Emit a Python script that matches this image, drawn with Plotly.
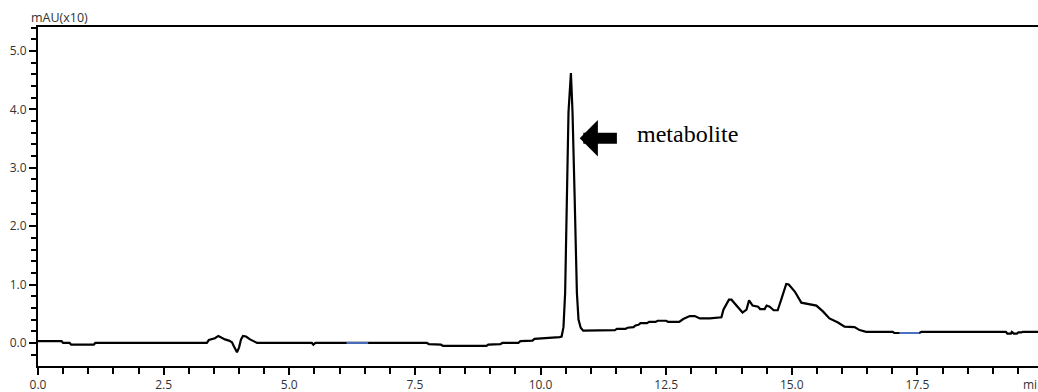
import plotly.graph_objects as go

# Chromatogram (time in min, signal in mAU x10)
time_min = [0.00, 0.47, 0.50, 0.63, 0.66, 1.11, 1.14,
            3.36, 3.40, 3.46, 3.52, 3.59, 3.66, 3.72, 3.80, 3.86, 3.90, 3.96, 4.00, 4.04, 4.08, 4.14, 4.22, 4.30, 4.36,
            5.45, 5.48, 5.52,
            7.74, 7.78, 8.02, 8.06, 8.92, 8.96, 9.20, 9.24, 9.56, 9.60, 9.84, 9.88, 10.10, 10.14, 10.38,
            10.42, 10.457, 10.49, 10.525, 10.557, 10.605, 10.637, 10.677, 10.724, 10.756, 10.80, 10.85,
            11.26, 11.30, 11.48, 11.52, 11.69, 11.73, 11.85, 11.89, 11.95, 11.99, 12.12, 12.16, 12.29, 12.33,
            12.50, 12.54, 12.76, 12.84, 12.97, 13.07, 13.17, 13.37, 13.45, 13.60, 13.64, 13.75, 13.80, 13.89,
            14.02, 14.10, 14.15, 14.22, 14.33, 14.37, 14.46, 14.50, 14.56, 14.64, 14.72, 14.79, 14.89, 14.94,
            15.06, 15.19, 15.29, 15.49, 15.62, 15.75, 15.92, 16.05, 16.25, 16.35, 16.48, 17.01, 17.04, 17.54,
            17.58, 19.26, 19.29, 19.36, 19.38, 19.42, 19.48, 19.51, 19.57, 19.60, 19.90]
signal = [0.03, 0.03, 0.00, 0.00, -0.03, -0.03, 0.00,
          0.00, 0.05, 0.06, 0.08, 0.12, 0.08, 0.06, 0.04, 0.01, -0.06, -0.16, -0.08, 0.06, 0.12, 0.11, 0.06, 0.02, 0.00,
          0.00, -0.03, 0.00,
          0.00, -0.02, -0.03, -0.05, -0.05, -0.03, -0.02, 0.00, 0.00, 0.03, 0.04, 0.07, 0.08, 0.09, 0.10,
          0.11, 0.27, 0.86, 2.58, 3.95, 4.62, 3.95, 2.58, 0.86, 0.40, 0.26, 0.21,
          0.21, 0.22, 0.22, 0.24, 0.24, 0.26, 0.27, 0.30, 0.31, 0.34, 0.34, 0.36, 0.36, 0.38,
          0.38, 0.36, 0.36, 0.41, 0.46, 0.46, 0.42, 0.42, 0.43, 0.44, 0.57, 0.74, 0.74, 0.65,
          0.52, 0.57, 0.73, 0.64, 0.62, 0.58, 0.58, 0.64, 0.62, 0.56, 0.56, 0.74, 1.01, 1.00,
          0.88, 0.69, 0.67, 0.64, 0.54, 0.42, 0.35, 0.28, 0.27, 0.22, 0.19, 0.19, 0.17, 0.17,
          0.19, 0.19, 0.16, 0.16, 0.19, 0.16, 0.16, 0.18, 0.18, 0.19, 0.19]

# Integration baseline markers (blue)
marker1_time = [6.14, 6.57]
marker1_signal = [0.00, 0.00]
marker2_time = [17.14, 17.54]
marker2_signal = [0.17, 0.17]

x_ticks = [0.0, 2.5, 5.0, 7.5, 10.0, 12.5, 15.0, 17.5]
y_ticks = [0.0, 1.0, 2.0, 3.0, 4.0, 5.0]

tick_font = dict(family="Open Sans", size=12, color="#333333")

fig = go.Figure()
fig.add_trace(go.Scatter(x=time_min, y=signal, mode="lines",
                         line=dict(color="black", width=2.2), hoverinfo="skip", showlegend=False))
for mx, my in [(marker1_time, marker1_signal), (marker2_time, marker2_signal)]:
    fig.add_trace(go.Scatter(x=mx, y=my, mode="lines",
                             line=dict(color="#4a70c0", width=2), hoverinfo="skip", showlegend=False))

fig.update_layout(
    width=1038, height=392,
    margin=dict(l=38, r=0, t=27, b=26),
    plot_bgcolor="white", paper_bgcolor="white",
    xaxis=dict(range=[0, 19.9], tickvals=x_ticks, ticktext=[f"{v:.1f}" for v in x_ticks],
               ticks="outside", ticklen=7, tickwidth=1.5, tickcolor="black",
               showline=True, linecolor="black", linewidth=2, mirror=True,
               showgrid=False, zeroline=False, tickfont=tick_font,
               minor=dict(dtick=0.5, tick0=0, ticks="outside", ticklen=6, tickwidth=1.5, tickcolor="black",
                          showgrid=False)),
    yaxis=dict(range=[-0.395, 5.41], tickvals=y_ticks, ticktext=[f"{v:.1f}" for v in y_ticks],
               ticks="outside", ticklen=7, tickwidth=1.5, tickcolor="black",
               showline=True, linecolor="black", linewidth=2, mirror=False,
               showgrid=False, zeroline=False, tickfont=tick_font,
               minor=dict(dtick=0.2, tick0=0, ticks="outside", ticklen=5, tickwidth=1.5, tickcolor="black",
                          showgrid=False)),
)

# Axis unit labels
fig.add_annotation(text="mAU(x10)", xref="paper", yref="paper", x=0.021, y=1.0,
                   xanchor="center", yanchor="bottom", showarrow=False, yshift=-1,
                   font=dict(family="Open Sans", size=12.5, color="#333333"))
fig.add_annotation(text="min", xref="paper", yref="paper", x=1.0, y=0,
                   xanchor="left", yanchor="top", showarrow=False, yshift=-8, xshift=-17,
                   font=dict(family="Open Sans", size=12, color="#333333"))

# Peak label with block arrow
fig.add_annotation(x=10.78, y=3.505, ax=11.55, ay=3.505, xref="x", yref="y", axref="x", ayref="y",
                   text="", showarrow=True, arrowhead=1, arrowsize=0.55, arrowwidth=11, arrowcolor="black")
fig.add_annotation(text="metabolite", x=12.925, y=3.58, xref="x", yref="y", showarrow=False,
                   xanchor="center", yanchor="middle",
                   font=dict(family="Liberation Serif", size=24, color="black"))

fig.write_html("out.html", config={"displayModeBar": False},
               post_script="document.body.style.margin='0';document.body.style.overflow='hidden';")
